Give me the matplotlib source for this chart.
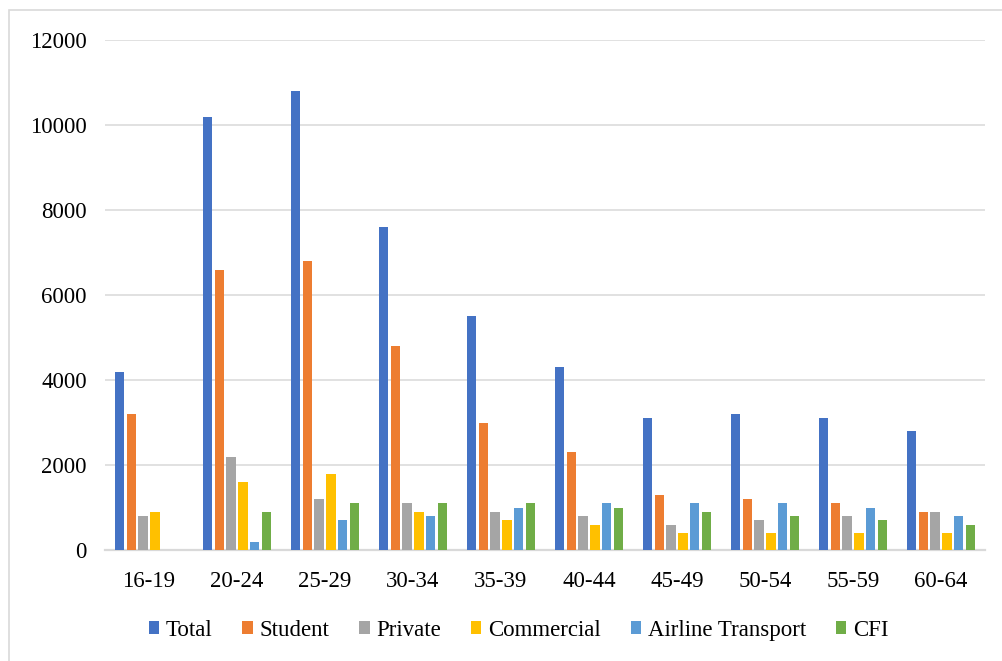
import numpy as np
import matplotlib
matplotlib.use("Agg")
from matplotlib import pyplot as plt
from matplotlib.patches import Rectangle

# pilot counts by age group and certificate type
age_groups = ['16-19', '20-24', '25-29', '30-34', '35-39',
              '40-44', '45-49', '50-54', '55-59', '60-64']
total = [4200, 10200, 10800, 7600, 5500, 4300, 3100, 3200, 3100, 2800]
student = [3200, 6600, 6800, 4800, 3000, 2300, 1300, 1200, 1100, 900]
private = [800, 2200, 1200, 1100, 900, 800, 600, 700, 800, 900]
commercial = [900, 1600, 1800, 900, 700, 600, 400, 400, 400, 400]
airline = [0, 200, 700, 800, 1000, 1100, 1100, 1100, 1000, 800]
cfi = [0, 900, 1100, 1100, 1100, 1000, 900, 800, 700, 600]

series = [('Total', total, '#4472C4'),
          ('Student', student, '#ED7D31'),
          ('Private', private, '#A5A5A5'),
          ('Commercial', commercial, '#FFC000'),
          ('Airline Transport', airline, '#5B9BD5'),
          ('CFI', cfi, '#70AD47')]

plt.rcParams['font.family'] = 'serif'
plt.rcParams['font.serif'] = ['Liberation Serif', 'DejaVu Serif']

fig = plt.figure(figsize=(10.03, 6.61), dpi=100)
ax = fig.add_axes([105 / 1003, 1 - 550 / 661, 880 / 1003, 510 / 661])

# light frame around the whole chart
fig.patches.append(Rectangle((9 / 1003, -0.01), 1.0, 1 - 10 / 661 + 0.01,
                             transform=fig.transFigure, fill=False,
                             edgecolor='#d9d9d9', linewidth=1.2))

x = np.arange(len(age_groups))
step = 0.133
bar_w = 0.108
for i, (name, vals, color) in enumerate(series):
    ax.bar(x + (i - 2.5) * step, vals, width=bar_w, color=color, label=name,
           zorder=3)

ax.set_xlim(-0.5, len(age_groups) - 0.5)
ax.set_ylim(0, 12000)
ax.set_yticks(range(0, 12001, 2000))
ax.set_xticks(x)
ax.set_xticklabels(age_groups)
ax.grid(axis='y', color='#d9d9d9', linewidth=1.1, zorder=0)
for side in ['top', 'right', 'left']:
    ax.spines[side].set_visible(False)
ax.spines['bottom'].set_color('#d9d9d9')
ax.spines['bottom'].set_linewidth(1.6)
ax.tick_params(axis='both', length=0, labelsize=16.5, colors='black')
ax.tick_params(axis='x', pad=15)
ax.tick_params(axis='y', pad=13)

ax.legend(loc='center', bbox_to_anchor=(0.470, -0.157), ncol=6, frameon=False,
          fontsize=16.5, handlelength=0.45, handleheight=0.45,
          handletextpad=0.3, columnspacing=1.3)

fig.savefig('out.png', dpi=100)
